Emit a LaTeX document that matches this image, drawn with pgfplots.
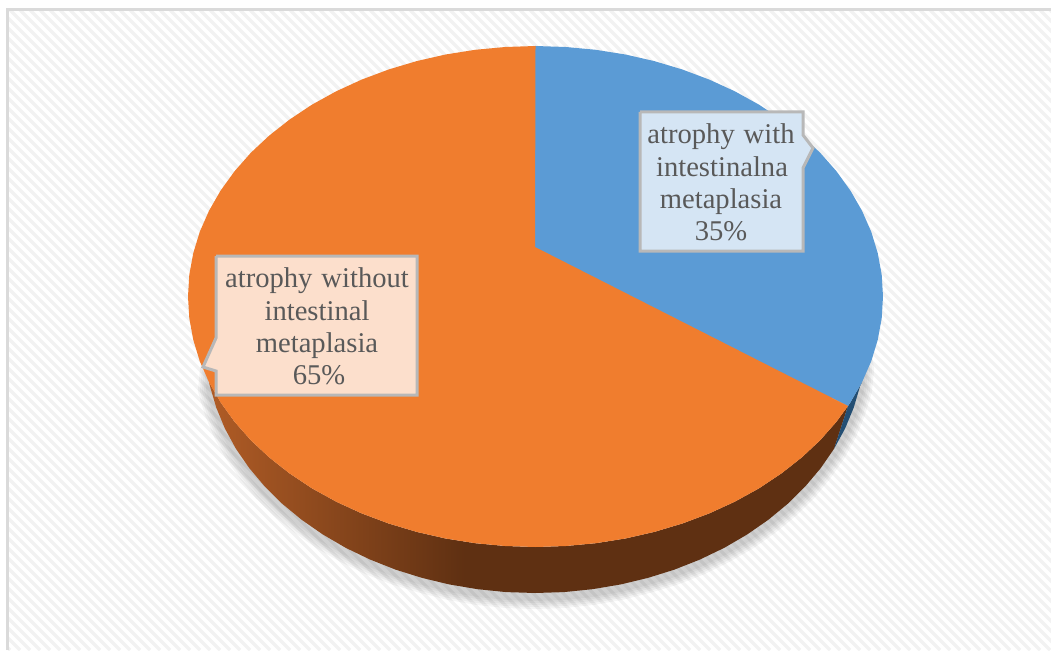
\documentclass[border=0pt]{standalone}
\usepackage{fontspec}
\setmainfont{Liberation Serif}[WordSpace=1.25]
\usepackage{pgfplots}
\pgfplotsset{compat=1.18}

\definecolor{pieblue}{HTML}{5B9BD5}
\definecolor{pieorange}{HTML}{F07D2E}
\definecolor{sidenavy}{HTML}{234E73}
\definecolor{sideA}{HTML}{B05C26}
\definecolor{sideB}{HTML}{5F3012}
\definecolor{boxblue}{HTML}{D5E5F4}
\definecolor{boxorange}{HTML}{FCDFCC}
\definecolor{boxline}{HTML}{B8B8B8}
\definecolor{labeltext}{HTML}{595959}
\definecolor{stripe}{HTML}{F2F2F2}
\definecolor{framegray}{HTML}{DADADA}

% tikz fits the path into 25bp..75bp of the shading
\pgfdeclarehorizontalshading{pieside}{100bp}{color(0bp)=(sideA); color(25bp)=(sideA); color(45bp)=(sideB); color(100bp)=(sideB)}

\begin{document}
\begin{tikzpicture}
\begin{axis}[
    at={(0,0)},
    anchor=south west,
    scale only axis,
    width=1051pt,
    height=650pt,
    xmin=0, xmax=1051,
    ymin=0, ymax=650,
    y dir=reverse,
    hide axis,
]
% hatched page background
\pgfplotsinvokeforeach{-640,-630,...,1050}{
    \draw[stripe, line width=3.5pt] (axis cs:#1,0) -- (axis cs:#1+650,650);
}
% white out the margin outside the frame
\fill[white] (axis cs:0,0) rectangle (axis cs:1051,9);
\fill[white] (axis cs:0,0) rectangle (axis cs:6,650);
\draw[framegray, line width=3pt] (axis cs:7.5,650) -- (axis cs:7.5,9.5) -- (axis cs:1051,9.5);

% soft shadow under the rim, ends tucked in behind the top face
\pgfplotsinvokeforeach{24,20,16,12,8}{
\addplot[draw=black, opacity=0.04, line width=#1pt, forget plot] coordinates {
(858,340) (862,370) (860,390) (853.7,411) (845.1,432) (834.1,452) (820.8,471) (805.3,490) (787.8,507) (768.3,523) (747.1,538) (724.3,551) (700,563) (674.5,573) (647.9,581) (620.4,588) (592.3,593) (563.8,596) (535,597)
(506.2,596) (477.7,593) (449.6,588) (422.1,581) (395.5,573) (370,563) (345.7,551) (322.9,538) (301.7,523) (282.2,507) (264.7,490) (249.2,471) (235.9,452) (224.9,432) (216.3,411) (210,390) (212,370) (216,340)
};
}

% rim, orange slice
\addplot[shading=pieside, draw=none, forget plot] coordinates {
(848,406) (836.4,421.8) (820.2,440.2) (801.7,457.5) (781.2,473.6) (758.9,488.4) (734.8,501.7) (709.3,513.4) (682.4,523.5) (654.3,531.9) (625.4,538.5) (595.8,543.2) (565.8,546) (535.5,547)
(505.2,546) (475.2,543.2) (445.6,538.5) (416.7,531.9) (388.6,523.5) (361.7,513.4) (336.2,501.7) (312.1,488.4) (289.8,473.6) (269.3,457.5) (250.8,440.2) (234.6,421.8) (220.6,402.4) (209,382.2)
(210,386.4) (216.3,407.7) (224.9,428.5) (235.9,448.7) (249.2,468) (264.7,486.4) (282.2,503.7) (301.7,519.8) (322.9,534.5) (345.7,547.8) (370,559.5) (395.5,569.6) (422.1,577.9) (449.6,584.5) (477.7,589.2) (506.2,592.1) (535,593)
(563.8,592.1) (592.3,589.2) (620.4,584.5) (647.9,577.9) (674.5,569.6) (700,559.5) (724.3,547.8) (747.1,534.5) (768.3,519.8) (787.8,503.7) (805.3,486.4) (820.8,468) (834.1,448.7) (848,406)
};
% rim, blue slice
\addplot[fill=sidenavy, draw=none, forget plot] coordinates {
(862,382.2) (850.4,402.4) (848,406) (834.1,448.7) (845.1,428.5) (853.7,407.7) (860,386.4) (862,382.2)
};

% top face: blue, 35% (runs a little under the orange so no seam shows)
\addplot[fill=pieblue, draw=none, forget plot] coordinates {
(531,250) (531,46.2) (535.5,46) (565.8,47) (595.8,49.8) (625.4,54.5) (654.3,61.1) (682.4,69.5) (709.3,79.6) (734.8,91.3) (758.9,104.6) (781.2,119.4) (801.7,135.5) (820.2,152.8) (836.4,171.2) (850.4,190.6) (862,210.8) (871.2,231.7) (877.7,253) (881.7,274.7) (883,296.5) (881.7,318.3) (877.7,340) (871.2,361.3) (862,382.2) (850.4,402.4) (848,406) (531,250)
};
% top face: orange, 65%
\addplot[fill=pieorange, draw=none, forget plot] coordinates {
(535,247) (848,406) (836.4,421.8) (820.2,440.2) (801.7,457.5) (781.2,473.6) (758.9,488.4) (734.8,501.7) (709.3,513.4) (682.4,523.5) (654.3,531.9) (625.4,538.5) (595.8,543.2) (565.8,546) (535.5,547)
(505.2,546) (475.2,543.2) (445.6,538.5) (416.7,531.9) (388.6,523.5) (361.7,513.4) (336.2,501.7) (312.1,488.4) (289.8,473.6) (269.3,457.5) (250.8,440.2) (234.6,421.8) (220.6,402.4) (209,382.2) (199.8,361.3) (193.3,340) (189.3,318.3) (188,296.5)
(189.3,274.7) (193.3,253) (199.8,231.7) (209,210.8) (220.6,190.6) (234.6,171.2) (250.8,152.8) (269.3,135.5) (289.8,119.4) (312.1,104.6) (336.2,91.3) (361.7,79.6) (388.6,69.5) (416.7,61.1) (445.6,54.5) (475.2,49.8) (505.2,47) (535.5,46) (535,247)
};

% callouts
\addplot[fill=boxblue, draw=boxline, line width=3pt, forget plot] coordinates {
(640,112) (803,112) (803,135) (813,148) (803,168) (803,251) (640,251) (640,112)
};
\addplot[fill=boxorange, draw=boxline, line width=3pt, forget plot] coordinates {
(216,256) (417,256) (417,395) (216,395) (216,371) (203,367) (216,338) (216,256)
};

\begin{scope}[every node/.style={anchor=base, inner sep=0pt, text=labeltext, font=\fontsize{28.6}{32}\selectfont}]
\node at (axis cs:721,143) {atrophy with};
\node at (axis cs:722,176) {intestinalna};
\node at (axis cs:721,208) {metaplasia};
\node at (axis cs:721,240) {35\%};
\node at (axis cs:317,287) {atrophy without};
\node at (axis cs:317,320) {intestinal};
\node at (axis cs:317,352) {metaplasia};
\node at (axis cs:319,384) {65\%};
\end{scope}
\end{axis}
\end{tikzpicture}
\end{document}
